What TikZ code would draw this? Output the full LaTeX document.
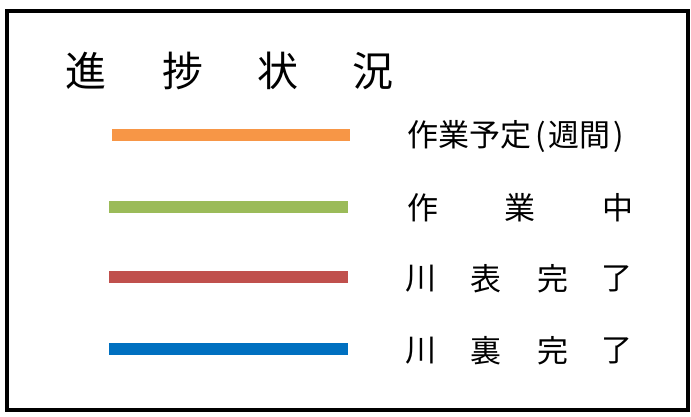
\documentclass[tikz,border=0pt]{standalone}
\usepackage{fontspec}
\newfontfamily\cjk{Noto Sans CJK JP}
\definecolor{cOrange}{HTML}{F79646}
\definecolor{cGreen}{HTML}{9BBB59}
\definecolor{cRed}{HTML}{C0504D}
\definecolor{cBlue}{HTML}{0070C0}
\tikzset{
  frame/.style={draw=black, line width=4.5pt},
  legendline/.style={line width=12pt},
  titlechar/.style={inner sep=0pt, font=\cjk\fontsize{41}{43}\selectfont},
  labelchar/.style={inner sep=0pt, font=\cjk\fontsize{31}{33}\selectfont},
}
\begin{document}
\begin{tikzpicture}[x=1pt,y=-1pt]
\useasboundingbox (0,0) rectangle (691,417);
\fill[white] (0,0) rectangle (691,417);
\draw[frame] (7,11) rectangle (688,410);
% title
\node[titlechar] (t1) at (86,71) {進};
\node[titlechar] (t2) at (183,71) {捗};
\node[titlechar] (t3) at (278,71) {状};
\node[titlechar] (t4) at (373,71) {況};
% legend lines
\draw[legendline, cOrange] (112,135) -- (350,135);
\draw[legendline, cGreen] (109,207) -- (348,207);
\draw[legendline, cRed] (109,277) -- (348,277);
\draw[legendline, cBlue] (109,349) -- (348,349);
% labels
\node[labelchar, anchor=west] (l1) at (407,137) {作業予定\kern4pt(\kern3pt週間\kern3pt)};
\node[labelchar] (l2a) at (423,208) {作};
\node[labelchar] (l2b) at (520,208) {業};
\node[labelchar] (l2c) at (618,208) {中};
\node[labelchar] (l3a) at (421,279) {川};
\node[labelchar] (l3b) at (486,279) {表};
\node[labelchar] (l3c) at (553,279) {完};
\node[labelchar] (l3d) at (617,279) {了};
\node[labelchar] (l4a) at (421,351) {川};
\node[labelchar] (l4b) at (486,351) {裏};
\node[labelchar] (l4c) at (553,351) {完};
\node[labelchar] (l4d) at (617,351) {了};
\end{tikzpicture}
\end{document}
